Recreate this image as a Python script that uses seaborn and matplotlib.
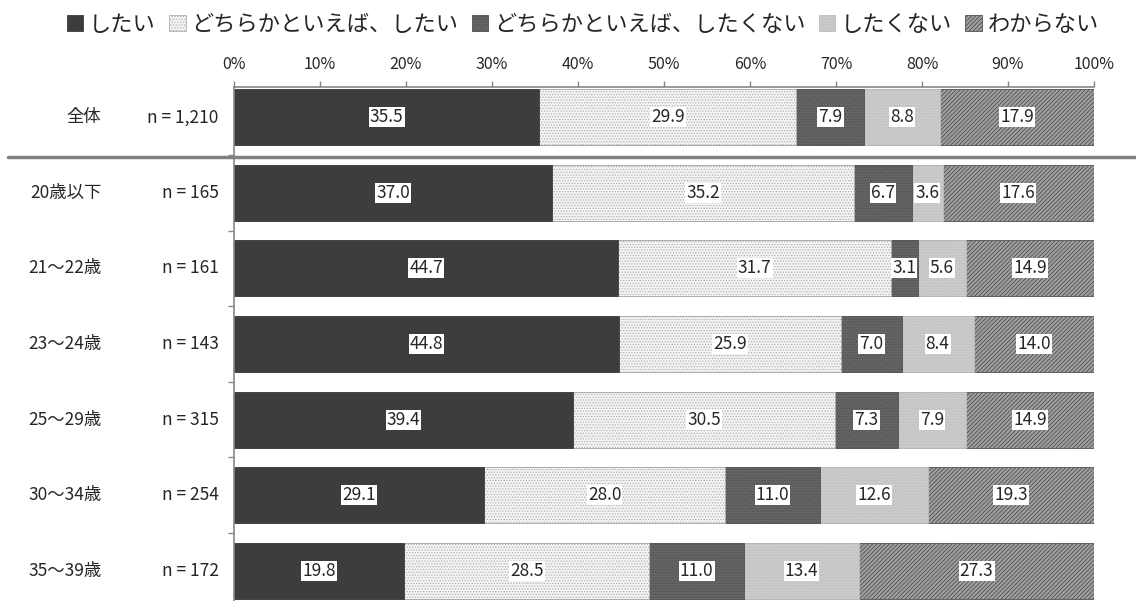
import matplotlib
matplotlib.use("Agg")
import matplotlib.pyplot as plt
import seaborn as sns
import numpy as np
import pandas as pd
from matplotlib.patches import Patch

categories = ["全体", "20歳以下", "21～22歳", "23～24歳", "25～29歳", "30～34歳", "35～39歳"]
n_labels = ["n = 1,210", "n = 165", "n = 161", "n = 143", "n = 315", "n = 254", "n = 172"]
series = ["したい", "どちらかといえば、したい", "どちらかといえば、したくない", "したくない", "わからない"]
v_shitai = [35.5, 37.0, 44.7, 44.8, 39.4, 29.1, 19.8]
v_dochira_shitai = [29.9, 35.2, 31.7, 25.9, 30.5, 28.0, 28.5]
v_dochira_shitakunai = [7.9, 6.7, 3.1, 7.0, 7.3, 11.0, 11.0]
v_shitakunai = [8.8, 3.6, 5.6, 8.4, 7.9, 12.6, 13.4]
v_wakaranai = [17.9, 17.6, 14.9, 14.0, 14.9, 19.3, 27.3]
xticks = [0, 10, 20, 30, 40, 50, 60, 70, 80, 90, 100]
xtick_labels = [f"{t}%" for t in xticks]

values = [v_shitai, v_dochira_shitai, v_dochira_shitakunai, v_shitakunai, v_wakaranai]

sns.set_theme(style="white")
plt.rcParams['font.family'] = ['Noto Sans CJK JP', 'DejaVu Sans']
plt.rcParams['hatch.linewidth'] = 0.6

styles = [
    dict(facecolor="#3d3d3d", hatch=None, edgecolor="#3d3d3d"),
    dict(facecolor="#f4f4f4", hatch="......", edgecolor="#b0b0b0"),
    dict(facecolor="#656565", hatch="......", edgecolor="#505050"),
    dict(facecolor="#cbcbcb", hatch="......", edgecolor="#bdbdbd"),
    dict(facecolor="#a0a0a0", hatch="////////", edgecolor="#505050"),
]

fig = plt.figure(figsize=(11.36, 6.01), dpi=100)
ax = fig.add_axes([234/1136, 0.0, (1094-234)/1136, 1 - 87/601])

arr = np.array(values)
cum = np.cumsum(arr, axis=0)
cum = cum / cum[-1] * 100.0  # normalise to 100%

for i in range(len(series) - 1, -1, -1):
    df = pd.DataFrame({"cat": categories, "val": cum[i]})
    st = styles[i]
    sns.barplot(data=df, x="val", y="cat", orient="h", ax=ax, width=0.74,
                color=st["facecolor"], saturation=1, edgecolor=st["edgecolor"],
                hatch=st["hatch"], linewidth=0.6)

# value labels
for i in range(len(series)):
    for j in range(len(categories)):
        start = cum[i - 1][j] if i > 0 else 0
        center = (start + cum[i][j]) / 2
        ax.text(center, j, f"{arr[i][j]:.1f}", ha="center", va="center", fontsize=12.5,
                bbox=dict(boxstyle="square,pad=0.06", facecolor="white", edgecolor="none"))

ax.set_xlim(0, 100)
ax.set_ylim(6.4, -0.4)
ax.xaxis.tick_top()
ax.set_xticks(xticks)
ax.set_xticklabels(xtick_labels, fontsize=11.5)
ax.tick_params(axis="x", direction="out", length=4, width=1, color="#888888", pad=6, top=True, bottom=False)
ax.set_yticks(np.arange(0.5, 6.5, 1.0))
ax.set_yticklabels([])
ax.tick_params(axis="y", direction="out", length=4, width=1, color="#888888", left=True)
ax.set_xlabel("")
ax.set_ylabel("")
for s in ["right", "bottom"]:
    ax.spines[s].set_visible(False)
for s in ["top", "left"]:
    ax.spines[s].set_color("#888888")
    ax.spines[s].set_linewidth(1.2)

# row labels
for j, (c, n) in enumerate(zip(categories, n_labels)):
    ax.text(-15.4, j, c, ha="right", va="center", fontsize=12.5, clip_on=False)
    ax.text(-1.8, j, n, ha="right", va="center", fontsize=12.5, clip_on=False)

# separator line between 全体 and the rest
ax.plot([-26.3, 105.0], [0.52, 0.52], color="#808080", linewidth=2.5, clip_on=False, zorder=5)

handles = [Patch(facecolor=st["facecolor"], edgecolor=st["edgecolor"], hatch=st["hatch"], linewidth=0.6)
           for st in styles]
fig.legend(handles, series, loc="upper center", bbox_to_anchor=(0.513, 1.012), ncol=5,
           frameon=False, fontsize=16, handlelength=0.75, handleheight=0.75, handletextpad=0.25,
           columnspacing=0.6)

fig.savefig("out.png", dpi=100)
